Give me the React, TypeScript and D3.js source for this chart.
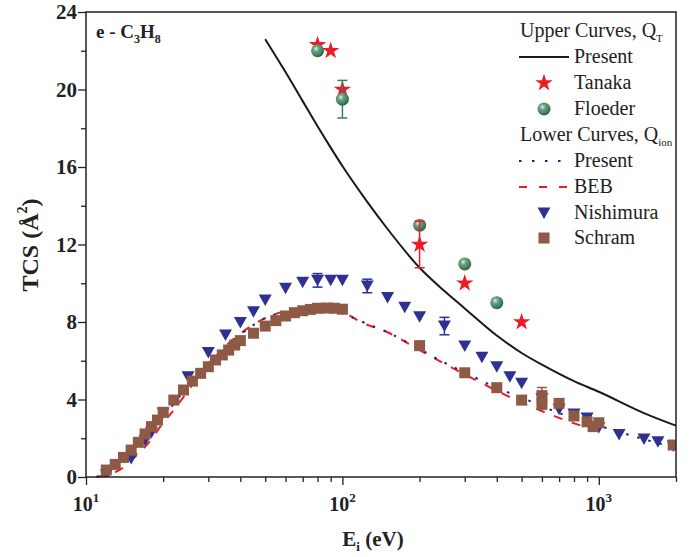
import React, { useEffect, useRef } from "react";
import * as d3 from "d3";

// Upper curve: present total cross section Q_T
const qtE = [50, 60, 70, 80, 90, 100, 125, 150, 200, 250, 300, 400, 500, 600, 800, 1000, 1500, 2000];
const qtV = [22.6, 20.9, 19.4, 18.1, 17.0, 16.05, 14.2, 12.8, 10.8, 9.6, 8.7, 7.3, 6.4, 5.8, 4.95, 4.4, 3.3, 2.65];

// Lower curves: present Q_ion and BEB
const ionE = [11, 12, 13, 14, 15, 17, 20, 25, 30, 35, 40, 50, 60, 80, 100, 120, 150, 200, 250, 300, 400, 500, 700, 1000, 1500, 2000];
const ionV = [0, 0.3, 0.65, 1.0, 1.35, 2.1, 3.1, 4.7, 5.85, 6.7, 7.35, 8.2, 8.5, 8.7, 8.45, 8.0, 7.47, 6.6, 5.9, 5.4, 4.6, 4.1, 3.3, 2.65, 1.95, 1.5];

const bebE = [11, 12, 13, 14, 15, 16, 18, 20, 22, 25, 30, 35, 40, 50, 60, 80, 100, 120, 150, 200, 250, 300, 400, 500, 700, 1000];
const bebV = [0, 0.1, 0.25, 0.5, 0.85, 1.2, 1.95, 2.8, 3.45, 4.45, 5.75, 6.75, 7.4, 8.2, 8.55, 8.7, 8.5, 7.95, 7.47, 6.55, 5.85, 5.3, 4.45, 3.85, 3.05, 2.35];

// Experimental points
const tanakaE = [80, 90, 100, 200, 300, 500];
const tanakaV = [22.3, 22.0, 20.0, 12.0, 10.0, 8.0];
const tanakaErrE = [200];
const tanakaErrV = [1.2];

const floederE = [80, 100, 200, 300, 400];
const floederV = [22.0, 19.5, 13.0, 11.0, 9.0];
const floederErrE = [100];
const floederErrV = [0.97];

const nishE = [12, 15, 17, 18, 20, 25, 30, 35, 40, 45, 50, 60, 70, 80, 90, 100, 125, 150, 175, 200, 250, 300, 350, 400, 450, 500, 600, 700, 800, 900, 1000, 1200, 1500, 1700, 1950];
const nishV = [0.1, 0.96, 1.9, 2.3, 3.3, 5.18, 6.42, 7.33, 7.97, 8.53, 9.14, 9.74, 10.05, 10.15, 10.15, 10.15, 9.86, 9.27, 8.76, 8.27, 7.79, 6.76, 6.18, 5.69, 5.18, 4.84, 4.05, 3.5, 3.25, 3.05, 2.55, 2.2, 1.96, 1.82, 1.6];
const nishErrE = [80, 125, 250];
const nishErrV = [0.35, 0.35, 0.45];

const schE = [12, 13, 14, 15, 16, 17, 18, 19, 20, 22, 24, 26, 28, 30, 32, 34, 36, 38, 40, 45, 50, 55, 60, 65, 70, 75, 80, 87, 93, 100, 200, 300, 400, 500, 600, 600, 700, 800, 900, 950, 1000, 1950];
const schV = [0.36, 0.65, 1.01, 1.39, 1.79, 2.22, 2.6, 2.94, 3.34, 3.97, 4.49, 4.95, 5.35, 5.69, 6.04, 6.3, 6.55, 6.81, 7.04, 7.42, 7.79, 8.07, 8.31, 8.48, 8.58, 8.65, 8.71, 8.72, 8.71, 8.66, 6.78, 5.38, 4.61, 3.97, 4.2, 3.75, 3.8, 3.15, 2.85, 2.6, 2.8, 1.65];
const schErrE = [600];
const schErrV = [0.42];

const xMajor = [10, 100, 1000];
const xMinor = [20, 30, 40, 50, 60, 70, 80, 90, 200, 300, 400, 500, 600, 700, 800, 900, 2000];
const yMajor = [0, 4, 8, 12, 16, 20, 24];
const yMinor = [2, 6, 10, 14, 18, 22];

const FONT = "Liberation Serif, Tinos, Times New Roman, DejaVu Serif, serif";
const RED = "#ed1c24";
const NAVY = "#2e3192";
const BROWN = "#8e5a45";
const GREEN = "#3f7a5a";

const pair = (xs: number[], ys: number[]) => xs.map((e, i) => [e, ys[i]] as [number, number]);

export default function App() {
  const xAxisRef = useRef<SVGGElement>(null);
  const yAxisRef = useRef<SVGGElement>(null);

  const x = d3.scaleLog().domain([10, 2000]).range([86, 676]);
  const y = d3.scaleLinear().domain([0, 24]).range([477, 12]);

  useEffect(() => {
    // bottom axis ticks
    const gx = d3.select(xAxisRef.current);
    gx.selectAll("*").remove();
    gx.call(
      d3.axisBottom(x).tickValues([...xMajor, ...xMinor]).tickFormat(() => "").tickSizeOuter(0)
    );
    gx.select(".domain").remove();
    gx.selectAll(".tick line")
      .attr("y2", (d: any) => (xMajor.includes(d) ? 8 : 5))
      .attr("stroke", "#222")
      .attr("stroke-width", 1.3);

    // left axis ticks
    const gy = d3.select(yAxisRef.current);
    gy.selectAll("*").remove();
    gy.call(
      d3.axisLeft(y).tickValues([...yMajor, ...yMinor]).tickFormat(() => "").tickSizeOuter(0)
    );
    gy.select(".domain").remove();
    gy.selectAll(".tick line")
      .attr("x2", (d: any) => (yMajor.includes(d) ? -8 : -5))
      .attr("stroke", "#222")
      .attr("stroke-width", 1.3);
  }, []);

  const line = d3
    .line<[number, number]>()
    .x((d) => x(d[0]))
    .y((d) => y(d[1]))
    .curve(d3.curveMonotoneX);

  const star = d3.symbol().type(d3.symbolStar).size(95)() as string;
  const tri = "M-6.5,-5.5L6.5,-5.5L0,6Z";

  const errBar = (e: number, v: number, err: number, color: string, key: string) => (
    <g key={key} stroke={color} strokeWidth={1.5}>
      <line x1={x(e)} x2={x(e)} y1={y(v - err)} y2={y(v + err)} />
      <line x1={x(e) - 5} x2={x(e) + 5} y1={y(v - err)} y2={y(v - err)} />
      <line x1={x(e) - 5} x2={x(e) + 5} y1={y(v + err)} y2={y(v + err)} />
    </g>
  );

  const lx = 519;
  const legY = [31, 57, 83, 109, 135, 161, 187, 213, 238];

  return (
    <div style={{ position: "absolute", left: 0, top: 0 }}>
      <svg width={689} height={557} style={{ display: "block", background: "#fff", fontFamily: FONT }}>
        <defs>
          <radialGradient id="sphere" cx="0.38" cy="0.35" r="0.7">
            <stop offset="0" stopColor="#e4f1e9" />
            <stop offset="0.3" stopColor="#6aa585" />
            <stop offset="0.75" stopColor={GREEN} />
            <stop offset="1" stopColor="#2a553e" />
          </radialGradient>
          <clipPath id="plot">
            <rect x={86} y={12} width={590} height={465} />
          </clipPath>
        </defs>

        {/* curves */}
        <g fill="none">
          <path d={line(pair(qtE, qtV)) as string} stroke="#1a1a1a" strokeWidth={2} />
          <path d={line(pair(bebE, bebV)) as string} stroke={RED} strokeWidth={2} strokeDasharray="9,10" />
          <path d={line(pair(ionE, ionV)) as string} stroke="#1f2380" strokeWidth={2} strokeDasharray="2.5,9" />
        </g>

        {/* Nishimura */}
        <g clipPath="url(#plot)">
          {nishErrE.map((e, i) => errBar(e, nishV[nishE.indexOf(e)], nishErrV[i], NAVY, "ne" + i))}
          {nishE.map((e, i) => (
            <path key={"n" + i} d={tri} transform={`translate(${x(e)},${y(nishV[i])})`} fill={NAVY} />
          ))}
          {/* Schram */}
          {schErrE.map((e, i) => errBar(e, schV[schE.indexOf(e)], schErrV[i], BROWN, "se" + i))}
          {schE.map((e, i) => (
            <rect key={"s" + i} x={x(e) - 5.5} y={y(schV[i]) - 5.5} width={11} height={11} fill={BROWN} />
          ))}
        </g>

        {/* Tanaka */}
        {tanakaE.map((e, i) => (
          <path key={"t" + i} d={star} transform={`translate(${x(e)},${y(tanakaV[i])})`} fill={RED} />
        ))}
        {/* Floeder */}
        {floederErrE.map((e, i) => errBar(e, floederV[floederE.indexOf(e)], floederErrV[i], GREEN, "fe" + i))}
        {floederE.map((e, i) => (
          <circle key={"f" + i} cx={x(e)} cy={y(floederV[i])} r={6.5} fill="url(#sphere)" />
        ))}
        {tanakaErrE.map((e, i) => errBar(e, tanakaV[tanakaE.indexOf(e)], tanakaErrV[i], RED, "te" + i))}

        {/* frame */}
        <rect x={86} y={12} width={590} height={465} fill="none" stroke="#222" strokeWidth={1.5} />
        <g ref={xAxisRef} transform="translate(0,477)" />
        <g ref={yAxisRef} transform="translate(86,0)" />

        {/* tick labels */}
        <g fontWeight="bold" fill="#222">
          {yMajor.map((v) => (
            <text key={"yl" + v} x={77} y={y(v) + 7} textAnchor="end" fontSize={21}>
              {v}
            </text>
          ))}
          {xMajor.map((v, i) => (
            <text key={"xl" + v} x={x(v)} y={511} textAnchor="middle" fontSize={20}>
              10<tspan fontSize={13} dy={-9}>{i + 1}</tspan>
            </text>
          ))}
        </g>

        {/* axis titles */}
        <text x={373} y={546} textAnchor="middle" fontWeight="bold" fontSize={21} fill="#222">
          E<tspan fontSize={13} dy={5}>i</tspan>
          <tspan dy={-5}> (eV)</tspan>
        </text>
        <text
          transform="translate(38,245) rotate(-90)"
          textAnchor="middle"
          fontWeight="bold"
          fontSize={24}
          fill="#222"
        >
          TCS (Å<tspan fontSize={14} dy={-11}>2</tspan>
          <tspan dy={11}>)</tspan>
        </text>

        {/* molecule label */}
        <text x={96} y={38} fontWeight="bold" fontSize={19} fill="#222">
          e - C<tspan fontSize={12} dy={5}>3</tspan>
          <tspan dy={-5}>H</tspan>
          <tspan fontSize={12} dy={5}>8</tspan>
        </text>

        {/* legend */}
        <g fontSize={20} fill="#222">
          <text x={520} y={legY[0] + 6}>
            Upper Curves, Q<tspan fontSize={11} dy={5}>T</tspan>
          </text>
          <line x1={lx} x2={lx + 50} y1={legY[1]} y2={legY[1]} stroke="#1a1a1a" strokeWidth={2} />
          <text x={574} y={legY[1] + 6}>Present</text>
          <path d={star} transform={`translate(${lx + 25},${legY[2]})`} fill={RED} />
          <text x={574} y={legY[2] + 6}>Tanaka</text>
          <circle cx={lx + 25} cy={legY[3]} r={6.5} fill="url(#sphere)" />
          <text x={574} y={legY[3] + 6}>Floeder</text>
          <text x={520} y={legY[4] + 6}>
            Lower Curves, Q<tspan fontSize={11} dy={5}>ion</tspan>
          </text>
          <line x1={lx} x2={lx + 50} y1={legY[5]} y2={legY[5]} stroke="#1f2380" strokeWidth={2} strokeDasharray="2.5,10.5" />
          <text x={574} y={legY[5] + 6}>Present</text>
          <line x1={lx} x2={lx + 50} y1={legY[6]} y2={legY[6]} stroke={RED} strokeWidth={2} strokeDasharray="8,12" />
          <text x={574} y={legY[6] + 6}>BEB</text>
          <path d={tri} transform={`translate(${lx + 25},${legY[7]})`} fill={NAVY} />
          <text x={574} y={legY[7] + 6}>Nishimura</text>
          <rect x={lx + 25 - 5.5} y={legY[8] - 5.5} width={11} height={11} fill={BROWN} />
          <text x={574} y={legY[8] + 6}>Schram</text>
        </g>
      </svg>
    </div>
  );
}
